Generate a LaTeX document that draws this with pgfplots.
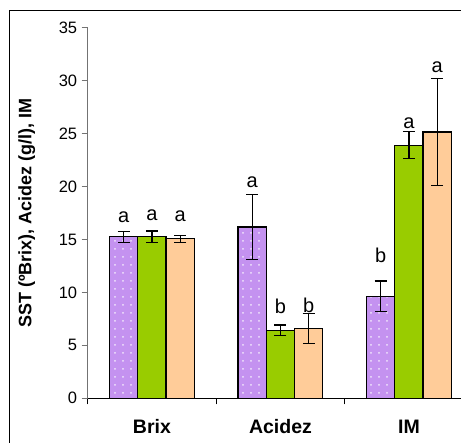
\documentclass[border=0pt]{standalone}
\usepackage{fontspec}
\setmainfont{Liberation Sans}
\usepackage{pgfplots}
\usepackage{pgfplotstable}
\pgfplotsset{compat=1.18}
\usetikzlibrary{patterns.meta}

\definecolor{lila}{RGB}{196,146,240}
\definecolor{verde}{RGB}{153,204,0}
\definecolor{melocoton}{RGB}{255,204,153}

% x: 0 = Brix, 1 = Acidez, 2 = IM ; y = mean ; e = error
\pgfplotstableread{
x y e
0 15.25 0.53
1 16.19 3.07
2 9.62 1.45
}\serieA
\pgfplotstableread{
x y e
0 15.25 0.55
1 6.42 0.50
2 23.90 1.28
}\serieB
\pgfplotstableread{
x y e
0 15.06 0.32
1 6.57 1.42
2 25.16 5.05
}\serieC

\begin{document}
\begin{tikzpicture}[x=1pt,y=1pt]
\path[use as bounding box, clip] (0,0) rectangle (461,443);
\fill[white] (0,0) rectangle (461,443);
\draw[black, line width=1pt] (9.5,-10) rectangle (480,432.5);
\begin{axis}[
  at={(87.7pt,44.7pt)}, anchor=south west,
  scale only axis, width=373.3pt, height=370.5pt,
  xmin=-0.5, xmax=2.405, ymin=0, ymax=35,
  axis x line*=bottom, axis y line*=left,
  x axis line style={black, line width=1pt},
  y axis line style={black!55, line width=1pt},
  ytick={0,5,...,35},
  ytick pos=left,
  y tick style={black!55, line width=1pt},
  x tick style={black, line width=1pt},
  tick align=outside, major tick length=6pt,
  xtick={-0.5,0.5,1.5}, xticklabels={},
  extra x ticks={0,1,2},
  extra x tick labels={Brix,Acidez,IM},
  extra x tick style={major tick length=0pt,
    xticklabel style={font=\bfseries\fontsize{19.5}{19.5}\selectfont, yshift=-18pt}},
  /pgf/number format/assume math mode=true,
  yticklabel style={font=\fontsize{16.5}{16.5}\selectfont, xshift=-1pt},
  ylabel={SST (ºBrix), Acidez (g/l), IM},
  ylabel style={font=\bfseries\fontsize{18}{18}\selectfont,
    at={(axis description cs:-0.163,0.5)}, anchor=center},
  ybar, bar width=0.22,
  every axis plot/.append style={draw=black, line width=1.2pt},
  error bars/error bar style={black, line width=1.3pt},
  error bars/error mark options={rotate=90, mark size=6pt, black, line width=1.3pt},
  clip=false,
]
\addplot[bar shift=-0.22, fill=lila,
  postaction={pattern={Dots[distance=8pt, radius=1pt, xshift=3pt, yshift=2pt]}, pattern color=white!75!lila},
  error bars/.cd, y dir=both, y explicit]
  table[x=x, y=y, y error=e] {\serieA};
\addplot[bar shift=0, fill=verde,
  error bars/.cd, y dir=both, y explicit]
  table[x=x, y=y, y error=e] {\serieB};
\addplot[bar shift=0.22, fill=melocoton,
  error bars/.cd, y dir=both, y explicit]
  table[x=x, y=y, y error=e] {\serieC};

% significance letters
\begin{scope}[every node/.style={anchor=base, font=\fontsize{20}{20}\selectfont, inner sep=0pt}]
\node at (axis cs:-0.22,16.57) {a};
\node at (axis cs:0,16.82) {a};
\node at (axis cs:0.22,16.67) {a};
\node at (axis cs:0.78,19.87) {a};
\node at (axis cs:1,8.02) {b};
\node at (axis cs:1.22,8.08) {b};
\node at (axis cs:1.78,12.83) {b};
\node at (axis cs:2,25.47) {a};
\node at (axis cs:2.22,30.82) {a};
\end{scope}
\end{axis}
\end{tikzpicture}
\end{document}
